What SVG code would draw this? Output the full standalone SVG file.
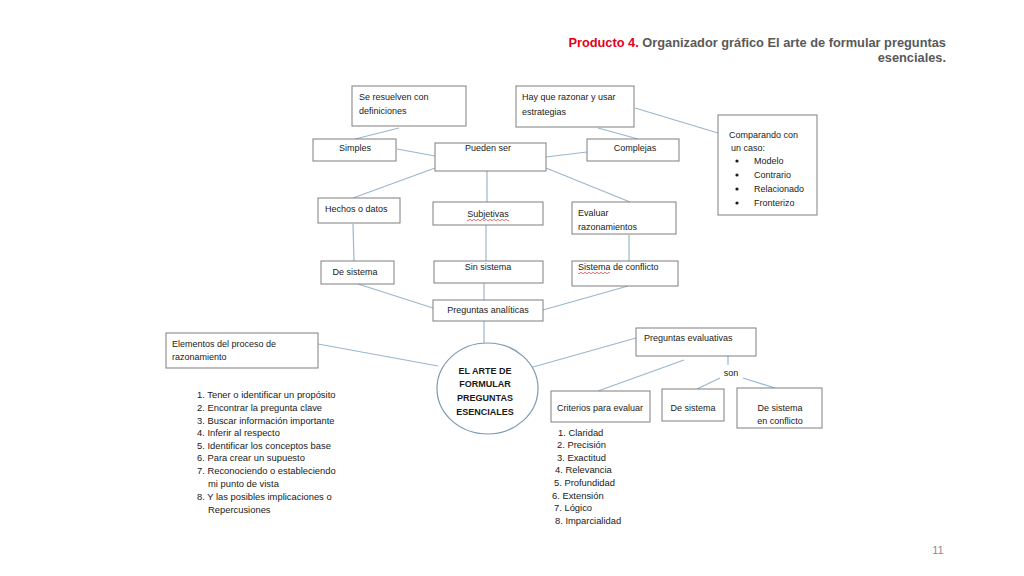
<svg xmlns="http://www.w3.org/2000/svg" width="1024" height="576" viewBox="0 0 1024 576">
<style>
.bx{fill:#fff;stroke:#7f7f7f;stroke-width:1}
.ln{stroke:#9ab7cc;stroke-width:1.2;fill:none}
.t{font-family:"Liberation Sans",Arial,sans-serif;font-size:9px;fill:#1a1a1a}
.l{font-size:9.4px}
.c{text-anchor:middle}
.b{font-weight:bold}
.wv{stroke:#e03030;stroke-width:0.7;fill:none}
</style>
<rect width="1024" height="576" fill="#fff"/>
<g id="title">
<text x="946" y="47" text-anchor="end" font-family="Liberation Sans,Arial,sans-serif" font-size="12.8" font-weight="bold" fill="#595959"><tspan fill="#e2001a">Producto 4.</tspan> Organizador gráfico El arte de formular preguntas</text>
<text x="946" y="62" text-anchor="end" font-family="Liberation Sans,Arial,sans-serif" font-size="12.8" font-weight="bold" fill="#595959">esenciales.</text>
</g>
<g id="connectors">
<line class="ln" x1="399" y1="128" x2="355" y2="139"/>
<line class="ln" x1="598" y1="128" x2="638" y2="139"/>
<line class="ln" x1="635" y1="108" x2="718" y2="133"/>
<line class="ln" x1="397" y1="149" x2="435" y2="156"/>
<line class="ln" x1="587" y1="152" x2="546" y2="157"/>
<line class="ln" x1="435" y1="168" x2="353" y2="198"/>
<line class="ln" x1="487" y1="171" x2="487" y2="202"/>
<line class="ln" x1="546" y1="168" x2="630" y2="202"/>
<line class="ln" x1="353" y1="224" x2="354" y2="261"/>
<line class="ln" x1="486" y1="225" x2="486" y2="261"/>
<line class="ln" x1="629" y1="235" x2="629" y2="261"/>
<line class="ln" x1="358" y1="284" x2="433" y2="308"/>
<line class="ln" x1="484" y1="283" x2="484" y2="300"/>
<line class="ln" x1="628" y1="286" x2="543" y2="310"/>
<line class="ln" x1="484" y1="321" x2="484" y2="343"/>
<line class="ln" x1="318" y1="344" x2="438" y2="366"/>
<line class="ln" x1="533" y1="367" x2="636" y2="338"/>
<line class="ln" x1="684" y1="360" x2="598" y2="391"/>
<line class="ln" x1="728" y1="356" x2="728" y2="365"/>
<line class="ln" x1="720" y1="378" x2="697" y2="389"/>
<line class="ln" x1="743" y1="378" x2="775" y2="388"/>
</g>
<g id="n-definiciones">
<rect class="bx" x="352" y="86" width="114" height="40"/>
<text class="t" x="359" y="100">Se resuelven con</text>
<text class="t" x="359" y="114">definiciones</text>
</g>
<g id="n-razonar">
<rect class="bx" x="516" y="86" width="118" height="41"/>
<text class="t" x="522" y="100">Hay que razonar y usar</text>
<text class="t" x="522" y="115">estrategias</text>
</g>
<g id="n-comparando">
<rect class="bx" x="718" y="115" width="99" height="100"/>
<text class="t" x="729" y="138">Comparando con</text>
<text class="t" x="731" y="151">un caso:</text>
<circle cx="737" cy="161" r="1.6" fill="#1a1a1a"/>
<circle cx="737" cy="175" r="1.6" fill="#1a1a1a"/>
<circle cx="737" cy="189" r="1.6" fill="#1a1a1a"/>
<circle cx="737" cy="203" r="1.6" fill="#1a1a1a"/>
<text class="t" x="754" y="164">Modelo</text>
<text class="t" x="754" y="178">Contrario</text>
<text class="t" x="754" y="192">Relacionado</text>
<text class="t" x="754" y="206">Fronterizo</text>
</g>
<g id="n-simples">
<rect class="bx" x="313" y="139" width="83" height="22"/>
<text class="t c" x="355" y="151">Simples</text>
</g>
<g id="n-pueden">
<rect class="bx" x="435" y="143" width="111" height="28"/>
<text class="t c" x="488" y="151">Pueden ser</text>
</g>
<g id="n-complejas">
<rect class="bx" x="587" y="139" width="92" height="22"/>
<text class="t c" x="635" y="151">Complejas</text>
</g>
<g id="n-hechos">
<rect class="bx" x="318" y="198" width="82" height="25"/>
<text class="t" x="325" y="212">Hechos o datos</text>
</g>
<g id="n-subjetivas">
<rect class="bx" x="433" y="202" width="110" height="23"/>
<text class="t c" x="488" y="217">Subjetivas</text>
<path class="wv" d="M467 220 q1 1.5 2 0 t2 0 t2 0 t2 0 t2 0 t2 0 t2 0 t2 0 t2 0 t2 0 t2 0 t2 0 t2 0 t2 0 t2 0 t2 0 t2 0 t2 0 t2 0 t2 0 t2 0"/>
</g>
<g id="n-evaluar">
<rect class="bx" x="572" y="202" width="104" height="32"/>
<text class="t" x="578" y="216">Evaluar</text>
<text class="t" x="578" y="230">razonamientos</text>
</g>
<g id="n-desistema1">
<rect class="bx" x="321" y="261" width="73" height="23"/>
<text class="t c" x="355" y="275">De sistema</text>
</g>
<g id="n-sinsistema">
<rect class="bx" x="434" y="261" width="109" height="22"/>
<text class="t c" x="488" y="270">Sin sistema</text>
</g>
<g id="n-conflicto">
<rect class="bx" x="572" y="261" width="106" height="25"/>
<text class="t" x="578" y="270">Sistema de conflicto</text>
<path class="wv" d="M578 273 q1 1.5 2 0 t2 0 t2 0 t2 0 t2 0 t2 0 t2 0 t2 0 t2 0 t2 0 t2 0 t2 0 t2 0 t2 0 t2 0 t2 0"/>
</g>
<g id="n-analiticas">
<rect class="bx" x="433" y="300" width="110" height="21"/>
<text class="t c" x="488" y="313">Preguntas analíticas</text>
</g>
<g id="n-centro">
<ellipse cx="487.5" cy="388.5" rx="50.5" ry="45.5" fill="#fff" stroke="#7d99ae" stroke-width="1.2"/>
<text class="t c b" x="485" y="374">EL ARTE DE</text>
<text class="t c b" x="485" y="387">FORMULAR</text>
<text class="t c b" x="485" y="401">PREGUNTAS</text>
<text class="t c b" x="485" y="415">ESENCIALES</text>
</g>
<g id="n-elementos">
<rect class="bx" x="166" y="333" width="152" height="35"/>
<text class="t" x="172" y="347">Elementos del proceso de</text>
<text class="t" x="172" y="360">razonamiento</text>
<text class="t l" x="197" y="398">1. Tener o identificar un propósito</text>
<text class="t l" x="197" y="411">2. Encontrar la pregunta clave</text>
<text class="t l" x="197" y="424">3. Buscar información importante</text>
<text class="t l" x="197" y="436">4. Inferir al respecto</text>
<text class="t l" x="197" y="449">5. Identificar los conceptos base</text>
<text class="t l" x="197" y="461">6. Para crear un supuesto</text>
<text class="t l" x="197" y="474">7. Reconociendo o estableciendo</text>
<text class="t l" x="208" y="487">mi punto de vista</text>
<text class="t l" x="197" y="500">8. Y las posibles implicaciones o</text>
<text class="t l" x="208" y="513">Repercusiones</text>
</g>
<g id="n-evaluativas">
<rect class="bx" x="636" y="328" width="120" height="28"/>
<text class="t" x="644" y="341">Preguntas evaluativas</text>
<text class="t c" x="731" y="376">son</text>
</g>
<g id="n-criterios">
<rect class="bx" x="551" y="391" width="99" height="31"/>
<text class="t c" x="600" y="411">Criterios para evaluar</text>
<text class="t l" x="558" y="436">1. Claridad</text>
<text class="t l" x="557" y="448">2. Precisión</text>
<text class="t l" x="557" y="461">3. Exactitud</text>
<text class="t l" x="555" y="473">4. Relevancia</text>
<text class="t l" x="554" y="486">5. Profundidad</text>
<text class="t l" x="552" y="499">6. Extensión</text>
<text class="t l" x="554" y="511">7. Lógico</text>
<text class="t l" x="555" y="524">8. Imparcialidad</text>
</g>
<g id="n-desistema2">
<rect class="bx" x="662" y="389" width="62" height="32"/>
<text class="t c" x="693" y="411">De sistema</text>
</g>
<g id="n-desistema3">
<rect class="bx" x="737" y="388" width="85" height="40"/>
<text class="t c" x="780" y="411">De sistema</text>
<text class="t c" x="780" y="424">en conflicto</text>
</g>
<text x="938" y="554" text-anchor="middle" font-family="Liberation Sans,Arial,sans-serif" font-size="11" fill="#8c8c8c">11</text>
</svg>
